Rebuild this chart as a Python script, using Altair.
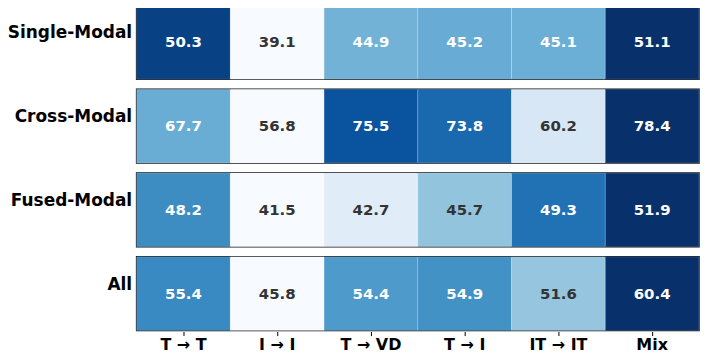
import altair as alt
import pandas as pd

rows = ["Single-Modal", "Cross-Modal", "Fused-Modal", "All"]
cols = ["T → T", "I → I", "T → VD", "T → I", "IT → IT", "Mix"]
single = [50.3, 39.1, 44.9, 45.2, 45.1, 51.1]
cross = [67.7, 56.8, 75.5, 73.8, 60.2, 78.4]
fused = [48.2, 41.5, 42.7, 45.7, 49.3, 51.9]
all_ = [55.4, 45.8, 54.4, 54.9, 51.6, 60.4]
blues = ["#f7fbff", "#deebf7", "#c6dbef", "#9ecae1", "#6baed6",
         "#4292c6", "#2171b5", "#08519c", "#08306b"]

records = []
for r, vals in zip(rows, [single, cross, fused, all_]):
    for c, v in zip(cols, vals):
        records.append({"row": r, "col": c, "value": v})
df = pd.DataFrame(records)

base = alt.Chart().transform_joinaggregate(
    vmin="min(value)", vmax="max(value)", groupby=["row"]
).transform_calculate(
    t="(datum.value - datum.vmin) / (datum.vmax - datum.vmin)"
)

x = alt.X("col:N", sort=cols, title=None,
          axis=alt.Axis(labelAngle=0, labelFontWeight="bold", labelFontSize=16,
                        labelFont="DejaVu Sans", labelColor="black", tickSize=4,
                        tickColor="black", domain=False, labelPadding=1))
y = alt.Y("row:N", title=None,
          axis=alt.Axis(labelFontWeight="bold", labelFontSize=17, labelFont="DejaVu Sans",
                        labelColor="black", ticks=False, domain=False,
                        labelOffset=-9, labelPadding=5))

rect = base.mark_rect(stroke="white", strokeWidth=0.5, strokeOpacity=0.4).encode(
    x=x, y=y,
    color=alt.Color("t:Q", scale=alt.Scale(domain=[i / 8 for i in range(9)],
                                           range=blues, interpolate="rgb"),
                    legend=None),
)
text = base.mark_text(font="DejaVu Sans", fontWeight="bold", fontSize=15).encode(
    x=x, y=y,
    text=alt.Text("value:Q", format=".1f"),
    color=alt.condition(alt.datum.t > 0.45, alt.value("white"), alt.value("#333333")),
)

chart = alt.layer(rect, text, data=df).properties(width=564, height=74).facet(
    row=alt.Row("row:N", sort=rows, header=alt.Header(labels=False), title=None)
).resolve_scale(y="independent").properties(
    padding={"top": -4, "left": -2, "right": 0, "bottom": 0}
).configure_facet(
    spacing=8
).configure_view(stroke="black", strokeWidth=1.5)

chart.save("out.html", embed_options={"renderer": "svg", "actions": False})
